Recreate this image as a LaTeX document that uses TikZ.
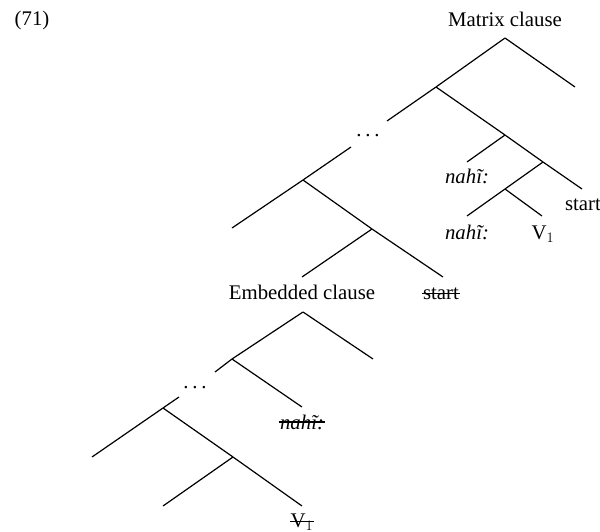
\documentclass[tikz,border=0pt]{standalone}
\usepackage{fontspec}
\setmainfont{Liberation Serif}
\begin{document}
\begin{tikzpicture}[x=1pt,y=-1pt,line width=1.2pt,
  lbl/.style={anchor=base,inner sep=0pt,font=\fontsize{20.8}{25}\selectfont},
  strike/.style={line width=1.4pt}]
\useasboundingbox (0,0) rectangle (600,532);
% upper tree
\coordinate (A) at (505,38);
\coordinate (Ar) at (575,87);
\coordinate (B) at (436,87);
\coordinate (Bl) at (387,121);
\coordinate (C) at (505,135);
\coordinate (Cl) at (467,162);
\coordinate (D) at (543,162);
\coordinate (Dr) at (582,189);
\coordinate (E) at (505,189);
\coordinate (El) at (467,216);
\coordinate (Er) at (542,216);
% middle tree
\coordinate (Fu) at (351,147);
\coordinate (F) at (303,180);
\coordinate (Fl) at (232,228);
\coordinate (G) at (372,229);
\coordinate (Gl) at (302,277);
\coordinate (Gr) at (443,277);
% lower tree
\coordinate (H) at (303,312);
\coordinate (Hr) at (373,359);
\coordinate (I) at (232,359);
\coordinate (Il) at (215,372);
\coordinate (Ir) at (302,407);
\coordinate (Ju) at (179,397);
\coordinate (J) at (163,408);
\coordinate (Jl) at (92,457);
\coordinate (K) at (233,457);
\coordinate (Kl) at (163,506);
\coordinate (Kr) at (302,506);
% labels
\node[lbl] (ex) at (32,26) {(71)};
\node[lbl] (mc) at (505,27) {Matrix clause};
\node[lbl] (dots1) at (368,137) {.\kern3.8pt.\kern3.8pt.};
\node[lbl] (n1) at (467,183) {\itshape nahĩ:};
\node[lbl] (st1) at (583,211) {start};
\node[lbl] (n2) at (467,239) {\itshape nahĩ:};
\node[lbl] (v1) at (543,239) {V$_1$};
\node[lbl] (ec) at (302,299) {Embedded clause};
\node[lbl] (st2) at (441,299) {start};
\node[lbl] (dots2) at (195,388) {.\kern3.8pt.\kern3.8pt.};
\node[lbl] (n3) at (302,429) {\itshape nahĩ:};
\node[lbl] (v2) at (302,527) {V$_1$};
% strike-throughs
\draw[strike] (st2.west) -- (st2.east);
\draw[strike] (n3.west) -- (n3.east);
\draw[strike] (v2.west) -- (v2.east);
% branches
\draw (A) -- (Ar);
\draw (A) -- (B);
\draw (B) -- (Bl);
\draw (B) -- (C);
\draw (C) -- (Cl);
\draw (C) -- (D);
\draw (D) -- (Dr);
\draw (D) -- (E);
\draw (E) -- (El);
\draw (E) -- (Er);
\draw (Fu) -- (F);
\draw (F) -- (Fl);
\draw (F) -- (G);
\draw (G) -- (Gl);
\draw (G) -- (Gr);
\draw (H) -- (Hr);
\draw (H) -- (I);
\draw (I) -- (Il);
\draw (I) -- (Ir);
\draw (Ju) -- (J);
\draw (J) -- (Jl);
\draw (J) -- (K);
\draw (K) -- (Kl);
\draw (K) -- (Kr);
\end{tikzpicture}
\end{document}
